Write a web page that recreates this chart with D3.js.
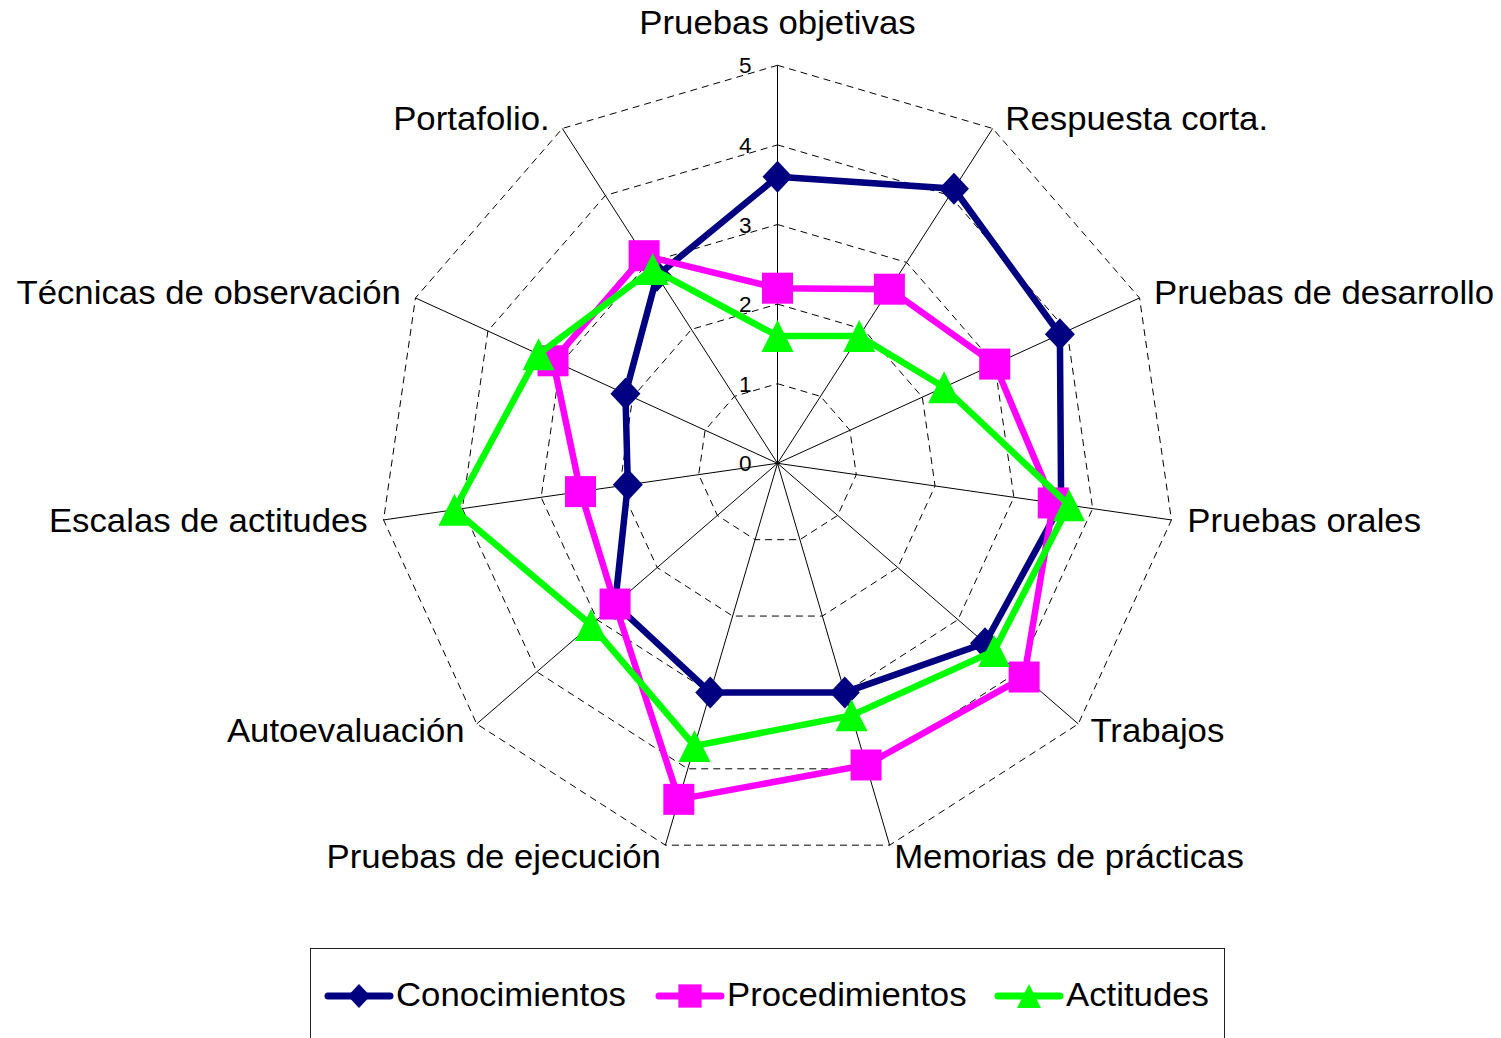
<!DOCTYPE html>
<html>
<head>
<meta charset="utf-8">
<script src="https://cdn.jsdelivr.net/npm/d3@7"></script>
<style>
  body { margin: 0; background: #fff; }
  text { font-family: "Liberation Sans", Arial, sans-serif; }
</style>
</head>
<body>
<div id="chart"></div>
<script>
var categories = ["Pruebas objetivas", "Respuesta corta.", "Pruebas de desarrollo", "Pruebas orales",
  "Trabajos", "Memorias de prácticas", "Pruebas de ejecución", "Autoevaluación",
  "Escalas de actitudes", "Técnicas de observación", "Portafolio."];
var conocimientos = [3.6, 4.1, 3.9, 3.6, 3.45, 3.0, 3.0, 2.7, 1.9, 2.1, 2.8];
var procedimientos = [2.2, 2.6, 3.0, 3.5, 4.1, 3.95, 4.4, 2.7, 2.5, 3.1, 3.1];
var actitudes = [1.6, 1.9, 2.3, 3.7, 3.6, 3.3, 3.7, 3.1, 4.1, 3.3, 2.9];
var tickValues = [0, 1, 2, 3, 4, 5];
var seriesNames = ["Conocimientos", "Procedimientos", "Actitudes"];

var series = [
  { name: seriesNames[0], values: conocimientos, color: "#000080", marker: "diamond" },
  { name: seriesNames[1], values: procedimientos, color: "#ff00ff", marker: "square" },
  { name: seriesNames[2], values: actitudes, color: "#00ff00", marker: "triangle" }
];

var width = 1501, height = 1038;
var cx = 777.5, cy = 463.3, R = 398;
var fontSize = 32.5, stretch = 1.07;

var svg = d3.select("#chart")
  .append("svg")
  .attr("width", width)
  .attr("height", height);

svg.append("rect").attr("width", width).attr("height", height).attr("fill", "#fff");

var r = d3.scaleLinear().domain([0, 5]).range([0, R]);
var angle = d3.scalePoint().domain(categories).range([0, 2 * Math.PI * (1 - 1 / categories.length)]);

function px(cat, v) { return cx + Math.sin(angle(cat)) * r(v); }
function py(cat, v) { return cy - Math.cos(angle(cat)) * r(v); }

var g = svg.append("g");

// dashed rings
tickValues.slice(1).forEach(function (t) {
  g.append("path")
    .attr("d", d3.line()(categories.map(function (c) { return [px(c, t), py(c, t)]; })) + "Z")
    .attr("fill", "none")
    .attr("stroke", "#000")
    .attr("stroke-width", 1)
    .attr("stroke-dasharray", "7,5");
});

// spokes
g.selectAll("line.spoke")
  .data(categories)
  .enter()
  .append("line")
  .attr("class", "spoke")
  .attr("x1", cx).attr("y1", cy)
  .attr("x2", function (c) { return px(c, 5); })
  .attr("y2", function (c) { return py(c, 5); })
  .attr("stroke", "#000")
  .attr("stroke-width", 1);

// tick labels
g.selectAll("text.tick")
  .data(tickValues)
  .enter()
  .append("text")
  .attr("class", "tick")
  .attr("x", cx - 26)
  .attr("y", function (d) { return cy - r(d) + 8; })
  .attr("text-anchor", "end")
  .attr("font-size", 22.5)
  .text(function (d) { return d; });

// category labels
g.selectAll("text.cat")
  .data(categories)
  .enter()
  .append("text")
  .attr("class", "cat")
  .attr("transform", function (c) {
    var a = angle(c);
    var s = Math.sin(a), co = Math.cos(a);
    var x = cx + s * (R + 16) + (Math.abs(s) > 0.3 && Math.abs(s) < 0.6 ? 4 * Math.sign(s) : 0);
    var y = cy - co * (co > 0 ? R + 10 : R + 13) + 10;
    if (Math.abs(s) < 0.01) y = 33.5;
    return "translate(" + x + "," + y + ") scale(" + stretch + ",1)";
  })
  .attr("text-anchor", function (c) {
    var s = Math.sin(angle(c));
    return Math.abs(s) < 0.01 ? "middle" : (s > 0 ? "start" : "end");
  })
  .attr("font-size", fontSize)
  .text(function (c) { return c; });

function markerPath(type, k) {
  k = k || 1;
  if (type === "diamond") {
    var w = 15 * k, h = 16 * k;
    return "M0," + (-h) + "L" + w + ",0L0," + h + "L" + (-w) + ",0Z";
  }
  if (type === "square") {
    var s = 15.5 * k;
    return "M" + (-s) + "," + (-s) + "H" + s + "V" + s + "H" + (-s) + "Z";
  }
  var t = 16 * k;
  return "M0," + (-t) + "L" + t + "," + t + "L" + (-t) + "," + t + "Z";
}

series.forEach(function (s) {
  var pts = categories.map(function (c, i) { return [px(c, s.values[i]), py(c, s.values[i])]; });
  var sg = svg.append("g");
  sg.append("path")
    .attr("d", d3.line()(pts) + "Z")
    .attr("fill", "none")
    .attr("stroke", s.color)
    .attr("stroke-width", 6.5)
    .attr("stroke-linejoin", "miter");
  sg.selectAll("path.mk")
    .data(pts)
    .enter()
    .append("path")
    .attr("class", "mk")
    .attr("transform", function (p) { return "translate(" + p[0] + "," + p[1] + ")"; })
    .attr("d", markerPath(s.marker))
    .attr("fill", s.color);
});

// legend
var legend = svg.append("g");
legend.append("rect")
  .attr("x", 310.5).attr("y", 948.5)
  .attr("width", 914).attr("height", 110)
  .attr("fill", "#fff")
  .attr("stroke", "#222")
  .attr("stroke-width", 1);

var legendX = [328, 659, 998];
series.forEach(function (s, i) {
  var x0 = legendX[i], y0 = 996;
  legend.append("line")
    .attr("x1", x0).attr("x2", x0 + 62)
    .attr("y1", y0).attr("y2", y0)
    .attr("stroke", s.color)
    .attr("stroke-width", 7)
    .attr("stroke-linecap", "round");
  legend.append("path")
    .attr("transform", "translate(" + (x0 + 31) + "," + y0 + ")")
    .attr("d", markerPath(s.marker, 0.75))
    .attr("fill", s.color);
  legend.append("text")
    .attr("transform", "translate(" + (x0 + 68) + "," + (y0 + 10) + ") scale(" + stretch + ",1)")
    .attr("font-size", fontSize)
    .text(s.name);
});
</script>
</body>
</html>
